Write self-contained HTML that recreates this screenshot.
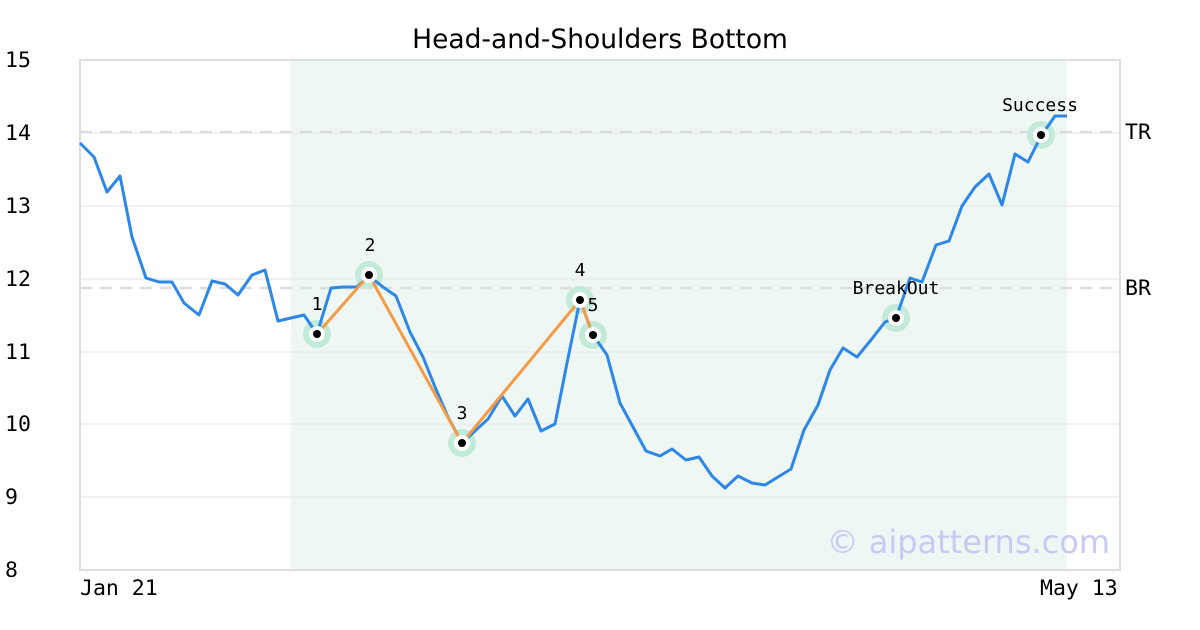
<!DOCTYPE html>
<html><head><meta charset="utf-8"><style>
html,body{margin:0;padding:0;background:#fff;}
svg{display:block;}
</style></head><body>
<svg width="1200" height="630" xmlns="http://www.w3.org/2000/svg">
<rect x="0" y="0" width="1200" height="630" fill="#fff"/>
<rect x="291" y="61" width="776" height="509" fill="#eff7f4"/>
<g stroke="#e8e8e8" stroke-width="1.2">
<line x1="80" y1="133" x2="1120" y2="133"/>
<line x1="80" y1="206" x2="1120" y2="206"/>
<line x1="80" y1="279" x2="1120" y2="279"/>
<line x1="80" y1="352" x2="1120" y2="352"/>
<line x1="80" y1="424" x2="1120" y2="424"/>
<line x1="80" y1="497" x2="1120" y2="497"/>
</g>
<g stroke="#dddddd" stroke-width="2.5" stroke-dasharray="12,8">
<line x1="80" y1="132" x2="1120" y2="132"/>
<line x1="80" y1="288" x2="1120" y2="288"/>
</g>
<rect x="80" y="60" width="1040" height="510" fill="none" stroke="#dddddd" stroke-width="2"/>
<text x="600" y="48" text-anchor="middle" font-family="DejaVu Sans, Liberation Sans, sans-serif" font-size="26.5" fill="#000">Head-and-Shoulders Bottom</text>
<g font-family="DejaVu Sans Mono, Liberation Mono, monospace" font-size="21.5" fill="#000">
<text x="5" y="67">15</text><text x="5" y="140">14</text><text x="5" y="213">13</text>
<text x="5" y="286">12</text><text x="5" y="359">11</text><text x="5" y="431">10</text>
<text x="5" y="504">9</text><text x="5" y="577">8</text>
<text x="80" y="595">Jan 21</text><text x="1040" y="595">May 13</text>
<text x="1125" y="139">TR</text><text x="1125" y="295">BR</text>
</g>
<text x="1110" y="553" text-anchor="end" font-family="DejaVu Sans, Liberation Sans, sans-serif" font-size="32" fill="#c9c9f5">© aipatterns.com</text>
<g fill="#c2ead8">
<circle cx="317" cy="334" r="14"/><circle cx="369" cy="275" r="14"/><circle cx="462" cy="443" r="14"/>
<circle cx="580" cy="300" r="14"/><circle cx="593" cy="335" r="14"/><circle cx="896" cy="318" r="14"/>
<circle cx="1041" cy="135" r="14"/>
</g>
<polyline fill="none" stroke="#2c87e8" stroke-width="3" stroke-linejoin="round" points="80,143 94,157 107,192 120,176 132,237 146,278 159,282 172,282 184,303 199,315 212,281 225,284 238,295 252,275 265,270 278,321 304,315 317,334 331,288 343,287 357,287 369,276 383,287 396,296 410,332 423,357 435,387 448,417 462,443 476,430 488,419 502,396 515,416 528,399 541,431 555,424 567,363 580,300 593,335 607,355 620,403 633,427 646,451 660,456 672,449 686,460 699,457 712,476 725,488 738,476 752,483 765,485 778,477 791,469 804,430 818,405 830,370 843,348 857,357 871,340 885,322 896,318 910,278 922,282 936,245 949,241 962,206 975,187 989,174 1002,205 1015,154 1028,162 1041,136 1055,116 1067,116"/>
<polyline fill="none" stroke="#f59a45" stroke-width="3" points="317,334 369,275 462,443 580,300 593,335"/>
<g fill="#fff">
<circle cx="317" cy="334" r="8"/><circle cx="369" cy="275" r="8"/><circle cx="462" cy="443" r="8"/>
<circle cx="580" cy="300" r="8"/><circle cx="593" cy="335" r="8"/><circle cx="896" cy="318" r="8"/>
<circle cx="1041" cy="135" r="8"/>
</g>
<g fill="#000">
<circle cx="317" cy="334" r="4"/><circle cx="369" cy="275" r="4"/><circle cx="462" cy="443" r="4"/>
<circle cx="580" cy="300" r="4"/><circle cx="593" cy="335" r="4"/><circle cx="896" cy="318" r="4"/>
<circle cx="1041" cy="135" r="4"/>
</g>
<g font-family="DejaVu Sans Mono, Liberation Mono, monospace" font-size="18" fill="#000" text-anchor="middle">
<text x="317" y="310">1</text><text x="370" y="251">2</text><text x="462" y="419">3</text>
<text x="580" y="276">4</text><text x="593" y="311">5</text>
<text x="896" y="294">BreakOut</text><text x="1040" y="111">Success</text>
</g>
</svg>
</body></html>
